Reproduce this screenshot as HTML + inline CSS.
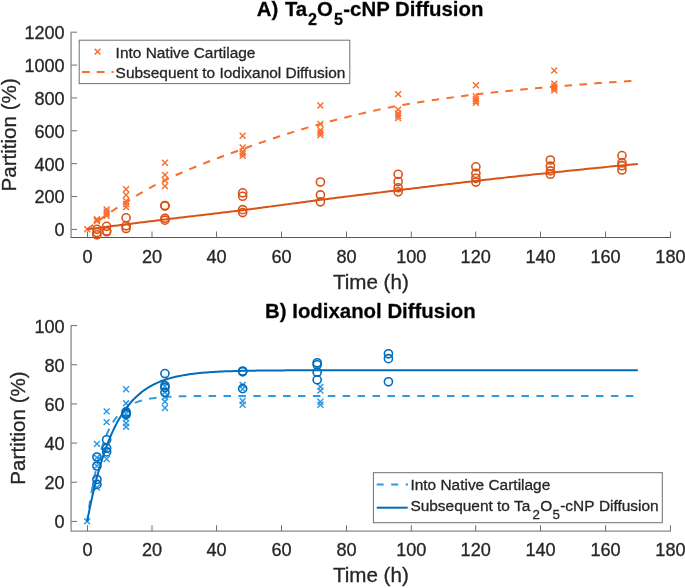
<!DOCTYPE html>
<html><head><meta charset="utf-8"><title>Diffusion</title>
<style>
html,body{margin:0;padding:0;background:#fff;}
svg{display:block;font-family:"Liberation Sans",sans-serif;will-change:transform;}
text{stroke:#262626;stroke-width:0.3px;}
</style></head>
<body>
<svg width="685" height="588" viewBox="0 0 685 588">
<rect width="685" height="588" fill="#fff"/>
<path d="M71.1 31.700000000000003V237.9" stroke="#9a9a9a" stroke-width="1.5" fill="none"/>
<path d="M70.89999999999999 237.4H670.9" stroke="#555" stroke-width="1.05" fill="none"/>
<path d="M87.50 237.4v-5.9" stroke="#707070" stroke-width="1" fill="none"/>
<text x="87.50" y="263.1" text-anchor="middle" font-size="18.1" fill="#262626">0</text>
<path d="M152.00 237.4v-5.9" stroke="#707070" stroke-width="1" fill="none"/>
<text x="152.00" y="263.1" text-anchor="middle" font-size="18.1" fill="#262626">20</text>
<path d="M216.55 237.4v-5.9" stroke="#707070" stroke-width="1" fill="none"/>
<text x="216.55" y="263.1" text-anchor="middle" font-size="18.1" fill="#262626">40</text>
<path d="M281.50 237.4v-5.9" stroke="#707070" stroke-width="1" fill="none"/>
<text x="281.50" y="263.1" text-anchor="middle" font-size="18.1" fill="#262626">60</text>
<path d="M346.50 237.4v-5.9" stroke="#707070" stroke-width="1" fill="none"/>
<text x="346.50" y="263.1" text-anchor="middle" font-size="18.1" fill="#262626">80</text>
<path d="M411.30 237.4v-5.9" stroke="#707070" stroke-width="1" fill="none"/>
<text x="411.30" y="263.1" text-anchor="middle" font-size="18.1" fill="#262626">100</text>
<path d="M475.70 237.4v-5.9" stroke="#707070" stroke-width="1" fill="none"/>
<text x="475.70" y="263.1" text-anchor="middle" font-size="18.1" fill="#262626">120</text>
<path d="M540.50 237.4v-5.9" stroke="#707070" stroke-width="1" fill="none"/>
<text x="540.50" y="263.1" text-anchor="middle" font-size="18.1" fill="#262626">140</text>
<path d="M605.55 237.4v-5.9" stroke="#707070" stroke-width="1" fill="none"/>
<text x="605.55" y="263.1" text-anchor="middle" font-size="18.1" fill="#262626">160</text>
<path d="M670.45 237.4v-5.9" stroke="#707070" stroke-width="1" fill="none"/>
<text x="670.45" y="263.1" text-anchor="middle" font-size="18.1" fill="#262626">180</text>
<path d="M71.3 229.40h5.8" stroke="#707070" stroke-width="1" fill="none"/>
<text x="64.7" y="236.30" text-anchor="end" font-size="18.1" fill="#262626">0</text>
<path d="M71.3 196.53h5.8" stroke="#707070" stroke-width="1" fill="none"/>
<text x="64.7" y="203.43" text-anchor="end" font-size="18.1" fill="#262626">200</text>
<path d="M71.3 163.67h5.8" stroke="#707070" stroke-width="1" fill="none"/>
<text x="64.7" y="170.57" text-anchor="end" font-size="18.1" fill="#262626">400</text>
<path d="M71.3 130.80h5.8" stroke="#707070" stroke-width="1" fill="none"/>
<text x="64.7" y="137.70" text-anchor="end" font-size="18.1" fill="#262626">600</text>
<path d="M71.3 97.94h5.8" stroke="#707070" stroke-width="1" fill="none"/>
<text x="64.7" y="104.84" text-anchor="end" font-size="18.1" fill="#262626">800</text>
<path d="M71.3 65.07h5.8" stroke="#707070" stroke-width="1" fill="none"/>
<text x="64.7" y="71.97" text-anchor="end" font-size="18.1" fill="#262626">1000</text>
<path d="M71.3 32.20h5.8" stroke="#707070" stroke-width="1" fill="none"/>
<text x="64.7" y="39.10" text-anchor="end" font-size="18.1" fill="#262626">1200</text>
<text x="370.85" y="288.6" text-anchor="middle" font-size="20.6" fill="#262626">Time (h)</text>
<text transform="translate(15.5 134.9) rotate(-90)" text-anchor="middle" font-size="20.6" fill="#262626">Partition (%)</text>
<path d="M84.25 226.35L90.15 232.25M84.25 232.25L90.15 226.35" stroke="#FA6E2D" stroke-width="1.45" fill="none"/>
<path d="M93.97 216.38L99.87 222.28M93.97 222.28L99.87 216.38" stroke="#FA6E2D" stroke-width="1.45" fill="none"/>
<path d="M93.97 217.19L99.87 223.09M93.97 223.09L99.87 217.19" stroke="#FA6E2D" stroke-width="1.45" fill="none"/>
<path d="M93.97 218.01L99.87 223.91M93.97 223.91L99.87 218.01" stroke="#FA6E2D" stroke-width="1.45" fill="none"/>
<path d="M103.68 206.40L109.58 212.30M103.68 212.30L109.58 206.40" stroke="#FA6E2D" stroke-width="1.45" fill="none"/>
<path d="M103.68 208.69L109.58 214.59M103.68 214.59L109.58 208.69" stroke="#FA6E2D" stroke-width="1.45" fill="none"/>
<path d="M103.68 210.65L109.58 216.55M103.68 216.55L109.58 210.65" stroke="#FA6E2D" stroke-width="1.45" fill="none"/>
<path d="M103.68 212.78L109.58 218.68M103.68 218.68L109.58 212.78" stroke="#FA6E2D" stroke-width="1.45" fill="none"/>
<path d="M123.12 186.29L129.02 192.19M123.12 192.19L129.02 186.29" stroke="#FA6E2D" stroke-width="1.45" fill="none"/>
<path d="M123.12 192.02L129.02 197.91M123.12 197.91L129.02 192.02" stroke="#FA6E2D" stroke-width="1.45" fill="none"/>
<path d="M123.12 198.06L129.02 203.96M123.12 203.96L129.02 198.06" stroke="#FA6E2D" stroke-width="1.45" fill="none"/>
<path d="M123.12 201.01L129.02 206.91M123.12 206.91L129.02 201.01" stroke="#FA6E2D" stroke-width="1.45" fill="none"/>
<path d="M123.12 204.11L129.02 210.01M123.12 210.01L129.02 204.11" stroke="#FA6E2D" stroke-width="1.45" fill="none"/>
<path d="M161.99 159.81L167.89 165.71M161.99 165.71L167.89 159.81" stroke="#FA6E2D" stroke-width="1.45" fill="none"/>
<path d="M161.99 171.90L167.89 177.80M161.99 177.80L167.89 171.90" stroke="#FA6E2D" stroke-width="1.45" fill="none"/>
<path d="M161.99 177.30L167.89 183.20M161.99 183.20L167.89 177.30" stroke="#FA6E2D" stroke-width="1.45" fill="none"/>
<path d="M161.99 183.19L167.89 189.09M161.99 189.09L167.89 183.19" stroke="#FA6E2D" stroke-width="1.45" fill="none"/>
<path d="M239.72 132.83L245.62 138.73M239.72 138.73L245.62 132.83" stroke="#FA6E2D" stroke-width="1.45" fill="none"/>
<path d="M239.72 144.60L245.62 150.50M239.72 150.50L245.62 144.60" stroke="#FA6E2D" stroke-width="1.45" fill="none"/>
<path d="M239.72 148.52L245.62 154.42M239.72 154.42L245.62 148.52" stroke="#FA6E2D" stroke-width="1.45" fill="none"/>
<path d="M239.72 150.65L245.62 156.55M239.72 156.55L245.62 150.65" stroke="#FA6E2D" stroke-width="1.45" fill="none"/>
<path d="M239.72 152.94L245.62 158.84M239.72 158.84L245.62 152.94" stroke="#FA6E2D" stroke-width="1.45" fill="none"/>
<path d="M317.46 102.58L323.36 108.48M317.46 108.48L323.36 102.58" stroke="#FA6E2D" stroke-width="1.45" fill="none"/>
<path d="M317.46 121.06L323.36 126.96M317.46 126.96L323.36 121.06" stroke="#FA6E2D" stroke-width="1.45" fill="none"/>
<path d="M317.46 127.27L323.36 133.17M317.46 133.17L323.36 127.27" stroke="#FA6E2D" stroke-width="1.45" fill="none"/>
<path d="M317.46 129.72L323.36 135.62M317.46 135.62L323.36 129.72" stroke="#FA6E2D" stroke-width="1.45" fill="none"/>
<path d="M317.46 132.01L323.36 137.91M317.46 137.91L323.36 132.01" stroke="#FA6E2D" stroke-width="1.45" fill="none"/>
<path d="M395.19 91.14L401.09 97.04M395.19 97.04L401.09 91.14" stroke="#FA6E2D" stroke-width="1.45" fill="none"/>
<path d="M395.19 106.67L401.09 112.57M395.19 112.57L401.09 106.67" stroke="#FA6E2D" stroke-width="1.45" fill="none"/>
<path d="M395.19 110.43L401.09 116.33M395.19 116.33L401.09 110.43" stroke="#FA6E2D" stroke-width="1.45" fill="none"/>
<path d="M395.19 112.88L401.09 118.78M395.19 118.78L401.09 112.88" stroke="#FA6E2D" stroke-width="1.45" fill="none"/>
<path d="M395.19 115.01L401.09 120.91M395.19 120.91L401.09 115.01" stroke="#FA6E2D" stroke-width="1.45" fill="none"/>
<path d="M472.93 82.31L478.83 88.21M472.93 88.21L478.83 82.31" stroke="#FA6E2D" stroke-width="1.45" fill="none"/>
<path d="M472.93 93.26L478.83 99.16M472.93 99.16L478.83 93.26" stroke="#FA6E2D" stroke-width="1.45" fill="none"/>
<path d="M472.93 96.04L478.83 101.94M472.93 101.94L478.83 96.04" stroke="#FA6E2D" stroke-width="1.45" fill="none"/>
<path d="M472.93 98.00L478.83 103.90M472.93 103.90L478.83 98.00" stroke="#FA6E2D" stroke-width="1.45" fill="none"/>
<path d="M472.93 99.80L478.83 105.70M472.93 105.70L478.83 99.80" stroke="#FA6E2D" stroke-width="1.45" fill="none"/>
<path d="M551.31 67.59L557.21 73.49M551.31 73.49L557.21 67.59" stroke="#FA6E2D" stroke-width="1.45" fill="none"/>
<path d="M551.31 80.83L557.21 86.73M551.31 86.73L557.21 80.83" stroke="#FA6E2D" stroke-width="1.45" fill="none"/>
<path d="M551.31 83.61L557.21 89.51M551.31 89.51L557.21 83.61" stroke="#FA6E2D" stroke-width="1.45" fill="none"/>
<path d="M551.31 85.41L557.21 91.31M551.31 91.31L557.21 85.41" stroke="#FA6E2D" stroke-width="1.45" fill="none"/>
<path d="M551.31 87.38L557.21 93.28M551.31 93.28L557.21 87.38" stroke="#FA6E2D" stroke-width="1.45" fill="none"/>
<path d="M87.20 229.30L89.97 227.17L92.73 225.07L95.50 222.99L98.27 220.94L101.03 218.92L103.80 216.92L106.57 214.96L109.34 213.02L112.10 211.12L114.87 209.25L117.64 207.40L120.40 205.60L123.17 203.82L125.94 202.08L128.70 200.36L131.47 198.66L134.24 196.99L137.01 195.33L139.77 193.70L142.54 192.10L145.31 190.52L148.07 188.97L150.84 187.45L153.61 185.97L156.37 184.51L159.14 183.10L161.91 181.72L164.68 180.37L167.44 179.06L170.21 177.77L172.98 176.50L175.74 175.25L178.51 174.02L181.28 172.80L184.04 171.61L186.81 170.42L189.58 169.26L192.35 168.10L195.11 166.97L197.88 165.84L200.65 164.73L203.41 163.63L206.18 162.55L208.95 161.47L211.71 160.41L214.48 159.35L217.25 158.31L220.02 157.27L222.78 156.24L225.55 155.22L228.32 154.20L231.08 153.19L233.85 152.19L236.62 151.19L239.38 150.20L242.15 149.21L244.92 148.22L247.69 147.24L250.45 146.26L253.22 145.28L255.99 144.32L258.75 143.35L261.52 142.39L264.29 141.44L267.05 140.50L269.82 139.56L272.59 138.63L275.35 137.71L278.12 136.79L280.89 135.88L283.66 134.98L286.42 134.09L289.19 133.21L291.96 132.34L294.72 131.48L297.49 130.63L300.26 129.79L303.02 128.96L305.79 128.14L308.56 127.33L311.33 126.53L314.09 125.75L316.86 124.98L319.63 124.22L322.39 123.47L325.16 122.73L327.93 121.99L330.69 121.25L333.46 120.53L336.23 119.80L339.00 119.09L341.76 118.38L344.53 117.68L347.30 116.98L350.06 116.29L352.83 115.61L355.60 114.94L358.36 114.27L361.13 113.62L363.90 112.97L366.67 112.34L369.43 111.71L372.20 111.09L374.97 110.48L377.73 109.89L380.50 109.30L383.27 108.73L386.03 108.17L388.80 107.62L391.57 107.08L394.34 106.56L397.10 106.05L399.87 105.55L402.64 105.06L405.40 104.57L408.17 104.10L410.94 103.63L413.70 103.16L416.47 102.71L419.24 102.26L422.01 101.82L424.77 101.38L427.54 100.95L430.31 100.53L433.07 100.11L435.84 99.70L438.61 99.30L441.37 98.90L444.14 98.51L446.91 98.12L449.68 97.74L452.44 97.37L455.21 97.00L457.98 96.64L460.74 96.28L463.51 95.93L466.28 95.58L469.04 95.24L471.81 94.90L474.58 94.57L477.34 94.24L480.11 93.92L482.88 93.60L485.65 93.29L488.41 92.98L491.18 92.67L493.95 92.37L496.71 92.08L499.48 91.79L502.25 91.50L505.01 91.21L507.78 90.93L510.55 90.66L513.32 90.38L516.08 90.11L518.85 89.85L521.62 89.58L524.38 89.32L527.15 89.07L529.92 88.81L532.68 88.56L535.45 88.31L538.22 88.06L540.99 87.82L543.75 87.58L546.52 87.33L549.29 87.10L552.05 86.86L554.82 86.63L557.59 86.39L560.35 86.16L563.12 85.93L565.89 85.71L568.66 85.48L571.42 85.26L574.19 85.03L576.96 84.81L579.72 84.59L582.49 84.38L585.26 84.16L588.02 83.95L590.79 83.74L593.56 83.53L596.33 83.32L599.09 83.12L601.86 82.92L604.63 82.72L607.39 82.52L610.16 82.33L612.93 82.13L615.69 81.94L618.46 81.76L621.23 81.57L624.00 81.39L626.76 81.21L629.53 81.03L632.30 80.86L635.06 80.68L637.83 80.52" stroke="#FA6E2D" stroke-width="2" stroke-dasharray="7.5 7.36" stroke-dashoffset="0.06" fill="none"/>
<circle cx="96.92" cy="229.30" r="4.05" stroke="#D95319" stroke-width="1.6" fill="none"/>
<circle cx="96.92" cy="232.57" r="4.05" stroke="#D95319" stroke-width="1.6" fill="none"/>
<circle cx="96.92" cy="234.86" r="4.05" stroke="#D95319" stroke-width="1.6" fill="none"/>
<circle cx="106.63" cy="226.36" r="4.05" stroke="#D95319" stroke-width="1.6" fill="none"/>
<circle cx="106.63" cy="230.94" r="4.05" stroke="#D95319" stroke-width="1.6" fill="none"/>
<circle cx="106.63" cy="231.75" r="4.05" stroke="#D95319" stroke-width="1.6" fill="none"/>
<circle cx="126.07" cy="217.86" r="4.05" stroke="#D95319" stroke-width="1.6" fill="none"/>
<circle cx="126.07" cy="225.87" r="4.05" stroke="#D95319" stroke-width="1.6" fill="none"/>
<circle cx="126.07" cy="228.48" r="4.05" stroke="#D95319" stroke-width="1.6" fill="none"/>
<circle cx="164.94" cy="205.51" r="4.05" stroke="#D95319" stroke-width="1.6" fill="none"/>
<circle cx="164.94" cy="206.08" r="4.05" stroke="#D95319" stroke-width="1.6" fill="none"/>
<circle cx="164.94" cy="218.35" r="4.05" stroke="#D95319" stroke-width="1.6" fill="none"/>
<circle cx="164.94" cy="220.14" r="4.05" stroke="#D95319" stroke-width="1.6" fill="none"/>
<circle cx="242.67" cy="192.84" r="4.05" stroke="#D95319" stroke-width="1.6" fill="none"/>
<circle cx="242.67" cy="196.27" r="4.05" stroke="#D95319" stroke-width="1.6" fill="none"/>
<circle cx="242.67" cy="209.68" r="4.05" stroke="#D95319" stroke-width="1.6" fill="none"/>
<circle cx="242.67" cy="212.62" r="4.05" stroke="#D95319" stroke-width="1.6" fill="none"/>
<circle cx="320.41" cy="182.05" r="4.05" stroke="#D95319" stroke-width="1.6" fill="none"/>
<circle cx="320.41" cy="194.97" r="4.05" stroke="#D95319" stroke-width="1.6" fill="none"/>
<circle cx="320.41" cy="201.83" r="4.05" stroke="#D95319" stroke-width="1.6" fill="none"/>
<circle cx="398.14" cy="174.36" r="4.05" stroke="#D95319" stroke-width="1.6" fill="none"/>
<circle cx="398.14" cy="181.56" r="4.05" stroke="#D95319" stroke-width="1.6" fill="none"/>
<circle cx="398.14" cy="187.77" r="4.05" stroke="#D95319" stroke-width="1.6" fill="none"/>
<circle cx="398.14" cy="191.86" r="4.05" stroke="#D95319" stroke-width="1.6" fill="none"/>
<circle cx="475.88" cy="166.84" r="4.05" stroke="#D95319" stroke-width="1.6" fill="none"/>
<circle cx="475.88" cy="173.38" r="4.05" stroke="#D95319" stroke-width="1.6" fill="none"/>
<circle cx="475.88" cy="178.29" r="4.05" stroke="#D95319" stroke-width="1.6" fill="none"/>
<circle cx="475.88" cy="182.05" r="4.05" stroke="#D95319" stroke-width="1.6" fill="none"/>
<circle cx="550.38" cy="159.98" r="4.05" stroke="#D95319" stroke-width="1.6" fill="none"/>
<circle cx="550.38" cy="166.19" r="4.05" stroke="#D95319" stroke-width="1.6" fill="none"/>
<circle cx="550.38" cy="170.93" r="4.05" stroke="#D95319" stroke-width="1.6" fill="none"/>
<circle cx="550.38" cy="174.20" r="4.05" stroke="#D95319" stroke-width="1.6" fill="none"/>
<circle cx="621.96" cy="155.56" r="4.05" stroke="#D95319" stroke-width="1.6" fill="none"/>
<circle cx="621.96" cy="162.92" r="4.05" stroke="#D95319" stroke-width="1.6" fill="none"/>
<circle cx="621.96" cy="165.70" r="4.05" stroke="#D95319" stroke-width="1.6" fill="none"/>
<circle cx="621.96" cy="169.95" r="4.05" stroke="#D95319" stroke-width="1.6" fill="none"/>
<path d="M87.20 229.30L89.97 228.94L92.73 228.59L95.50 228.23L98.27 227.87L101.03 227.52L103.80 227.16L106.57 226.81L109.34 226.46L112.10 226.10L114.87 225.75L117.64 225.40L120.40 225.05L123.17 224.70L125.94 224.35L128.70 224.00L131.47 223.65L134.24 223.30L137.01 222.96L139.77 222.61L142.54 222.27L145.31 221.92L148.07 221.58L150.84 221.23L153.61 220.89L156.37 220.55L159.14 220.20L161.91 219.86L164.68 219.52L167.44 219.18L170.21 218.85L172.98 218.51L175.74 218.18L178.51 217.85L181.28 217.52L184.04 217.19L186.81 216.86L189.58 216.53L192.35 216.21L195.11 215.88L197.88 215.56L200.65 215.23L203.41 214.90L206.18 214.58L208.95 214.25L211.71 213.93L214.48 213.60L217.25 213.27L220.02 212.94L222.78 212.61L225.55 212.28L228.32 211.94L231.08 211.61L233.85 211.27L236.62 210.93L239.38 210.58L242.15 210.24L244.92 209.89L247.69 209.53L250.45 209.18L253.22 208.82L255.99 208.46L258.75 208.10L261.52 207.73L264.29 207.36L267.05 206.99L269.82 206.62L272.59 206.25L275.35 205.88L278.12 205.50L280.89 205.13L283.66 204.76L286.42 204.38L289.19 204.01L291.96 203.63L294.72 203.26L297.49 202.89L300.26 202.52L303.02 202.15L305.79 201.78L308.56 201.41L311.33 201.05L314.09 200.69L316.86 200.33L319.63 199.97L322.39 199.62L325.16 199.26L327.93 198.91L330.69 198.56L333.46 198.21L336.23 197.86L339.00 197.51L341.76 197.17L344.53 196.82L347.30 196.47L350.06 196.13L352.83 195.78L355.60 195.44L358.36 195.10L361.13 194.76L363.90 194.42L366.67 194.08L369.43 193.73L372.20 193.39L374.97 193.06L377.73 192.72L380.50 192.38L383.27 192.04L386.03 191.70L388.80 191.36L391.57 191.03L394.34 190.69L397.10 190.35L399.87 190.01L402.64 189.68L405.40 189.34L408.17 189.00L410.94 188.66L413.70 188.32L416.47 187.99L419.24 187.65L422.01 187.31L424.77 186.98L427.54 186.64L430.31 186.30L433.07 185.97L435.84 185.63L438.61 185.30L441.37 184.97L444.14 184.63L446.91 184.30L449.68 183.97L452.44 183.64L455.21 183.31L457.98 182.99L460.74 182.66L463.51 182.34L466.28 182.01L469.04 181.69L471.81 181.37L474.58 181.05L477.34 180.74L480.11 180.42L482.88 180.11L485.65 179.79L488.41 179.48L491.18 179.17L493.95 178.86L496.71 178.55L499.48 178.24L502.25 177.93L505.01 177.62L507.78 177.32L510.55 177.01L513.32 176.71L516.08 176.41L518.85 176.10L521.62 175.80L524.38 175.50L527.15 175.20L529.92 174.91L532.68 174.61L535.45 174.31L538.22 174.02L540.99 173.72L543.75 173.43L546.52 173.14L549.29 172.84L552.05 172.55L554.82 172.26L557.59 171.97L560.35 171.68L563.12 171.39L565.89 171.11L568.66 170.82L571.42 170.53L574.19 170.25L576.96 169.96L579.72 169.68L582.49 169.40L585.26 169.11L588.02 168.83L590.79 168.55L593.56 168.27L596.33 167.99L599.09 167.71L601.86 167.43L604.63 167.16L607.39 166.88L610.16 166.61L612.93 166.33L615.69 166.06L618.46 165.79L621.23 165.51L624.00 165.24L626.76 164.97L629.53 164.70L632.30 164.43L635.06 164.17L637.83 163.90" stroke="#D95319" stroke-width="2" fill="none"/>
<rect x="79.2" y="40.2" width="270.6" height="43.4" fill="#fff" stroke="#707070" stroke-width="1"/>
<path d="M94.60 48.65L100.50 54.55M94.60 54.55L100.50 48.65" stroke="#FA6E2D" stroke-width="1.45" fill="none"/>
<path d="M82 71.9H113.5" stroke="#FA6E2D" stroke-width="2" stroke-dasharray="7.8 7" fill="none"/>
<text x="115.6" y="57.6" font-size="15.45" fill="#262626">Into Native Cartilage</text>
<text x="115.6" y="77.7" font-size="15.45" fill="#262626">Subsequent to Iodixanol Diffusion</text>
<g font-size="20.4" font-weight="bold" fill="#000"><text x="256.8" y="15.7">A)</text><text x="284.9" y="15.7">Ta</text><text x="308.1" y="25.2" font-size="16.1">2</text><text x="317.1" y="15.7">O</text><text x="334.1" y="25.2" font-size="16.1">5</text><text x="343.3" y="15.7">-cNP Diffusion</text></g>
<path d="M71.1 325.1V531.6" stroke="#9a9a9a" stroke-width="1.5" fill="none"/>
<path d="M70.89999999999999 531.1H670.9" stroke="#8a8a8a" stroke-width="1.05" fill="none"/>
<path d="M87.50 531.1v-5.9" stroke="#707070" stroke-width="1" fill="none"/>
<text x="87.50" y="556.2" text-anchor="middle" font-size="18.1" fill="#262626">0</text>
<path d="M152.00 531.1v-5.9" stroke="#707070" stroke-width="1" fill="none"/>
<text x="152.00" y="556.2" text-anchor="middle" font-size="18.1" fill="#262626">20</text>
<path d="M216.55 531.1v-5.9" stroke="#707070" stroke-width="1" fill="none"/>
<text x="216.55" y="556.2" text-anchor="middle" font-size="18.1" fill="#262626">40</text>
<path d="M281.50 531.1v-5.9" stroke="#707070" stroke-width="1" fill="none"/>
<text x="281.50" y="556.2" text-anchor="middle" font-size="18.1" fill="#262626">60</text>
<path d="M346.50 531.1v-5.9" stroke="#707070" stroke-width="1" fill="none"/>
<text x="346.50" y="556.2" text-anchor="middle" font-size="18.1" fill="#262626">80</text>
<path d="M411.30 531.1v-5.9" stroke="#707070" stroke-width="1" fill="none"/>
<text x="411.30" y="556.2" text-anchor="middle" font-size="18.1" fill="#262626">100</text>
<path d="M475.70 531.1v-5.9" stroke="#707070" stroke-width="1" fill="none"/>
<text x="475.70" y="556.2" text-anchor="middle" font-size="18.1" fill="#262626">120</text>
<path d="M540.50 531.1v-5.9" stroke="#707070" stroke-width="1" fill="none"/>
<text x="540.50" y="556.2" text-anchor="middle" font-size="18.1" fill="#262626">140</text>
<path d="M605.55 531.1v-5.9" stroke="#707070" stroke-width="1" fill="none"/>
<text x="605.55" y="556.2" text-anchor="middle" font-size="18.1" fill="#262626">160</text>
<path d="M670.45 531.1v-5.9" stroke="#707070" stroke-width="1" fill="none"/>
<text x="670.45" y="556.2" text-anchor="middle" font-size="18.1" fill="#262626">180</text>
<path d="M71.3 521.40h5.8" stroke="#707070" stroke-width="1" fill="none"/>
<text x="64.7" y="528.30" text-anchor="end" font-size="18.1" fill="#262626">0</text>
<path d="M71.3 482.24h5.8" stroke="#707070" stroke-width="1" fill="none"/>
<text x="64.7" y="489.14" text-anchor="end" font-size="18.1" fill="#262626">20</text>
<path d="M71.3 443.08h5.8" stroke="#707070" stroke-width="1" fill="none"/>
<text x="64.7" y="449.98" text-anchor="end" font-size="18.1" fill="#262626">40</text>
<path d="M71.3 403.92h5.8" stroke="#707070" stroke-width="1" fill="none"/>
<text x="64.7" y="410.82" text-anchor="end" font-size="18.1" fill="#262626">60</text>
<path d="M71.3 364.76h5.8" stroke="#707070" stroke-width="1" fill="none"/>
<text x="64.7" y="371.66" text-anchor="end" font-size="18.1" fill="#262626">80</text>
<path d="M71.3 325.60h5.8" stroke="#707070" stroke-width="1" fill="none"/>
<text x="64.7" y="332.50" text-anchor="end" font-size="18.1" fill="#262626">100</text>
<text x="370.85" y="582.4" text-anchor="middle" font-size="20.6" fill="#262626">Time (h)</text>
<text transform="translate(25.3 428.0) rotate(-90)" text-anchor="middle" font-size="20.6" fill="#262626">Partition (%)</text>
<path d="M84.25 518.45L90.15 524.35M84.25 524.35L90.15 518.45" stroke="#2A99E8" stroke-width="1.45" fill="none"/>
<path d="M93.97 440.91L99.87 446.81M93.97 446.81L99.87 440.91" stroke="#2A99E8" stroke-width="1.45" fill="none"/>
<path d="M93.97 454.62L99.87 460.52M93.97 460.52L99.87 454.62" stroke="#2A99E8" stroke-width="1.45" fill="none"/>
<path d="M93.97 463.04L99.87 468.94M93.97 468.94L99.87 463.04" stroke="#2A99E8" stroke-width="1.45" fill="none"/>
<path d="M93.97 484.58L99.87 490.48M93.97 490.48L99.87 484.58" stroke="#2A99E8" stroke-width="1.45" fill="none"/>
<path d="M103.68 408.41L109.58 414.31M103.68 414.31L109.58 408.41" stroke="#2A99E8" stroke-width="1.45" fill="none"/>
<path d="M103.68 419.18L109.58 425.08M103.68 425.08L109.58 419.18" stroke="#2A99E8" stroke-width="1.45" fill="none"/>
<path d="M103.68 447.96L109.58 453.86M103.68 453.86L109.58 447.96" stroke="#2A99E8" stroke-width="1.45" fill="none"/>
<path d="M103.68 455.99L109.58 461.89M103.68 461.89L109.58 455.99" stroke="#2A99E8" stroke-width="1.45" fill="none"/>
<path d="M123.12 386.29L129.02 392.19M123.12 392.19L129.02 386.29" stroke="#2A99E8" stroke-width="1.45" fill="none"/>
<path d="M123.12 400.38L129.02 406.28M123.12 406.28L129.02 400.38" stroke="#2A99E8" stroke-width="1.45" fill="none"/>
<path d="M123.12 410.76L129.02 416.66M123.12 416.66L129.02 410.76" stroke="#2A99E8" stroke-width="1.45" fill="none"/>
<path d="M123.12 415.65L129.02 421.55M123.12 421.55L129.02 415.65" stroke="#2A99E8" stroke-width="1.45" fill="none"/>
<path d="M123.12 420.16L129.02 426.06M123.12 426.06L129.02 420.16" stroke="#2A99E8" stroke-width="1.45" fill="none"/>
<path d="M123.12 423.88L129.02 429.78M123.12 429.78L129.02 423.88" stroke="#2A99E8" stroke-width="1.45" fill="none"/>
<path d="M161.99 383.35L167.89 389.25M161.99 389.25L167.89 383.35" stroke="#2A99E8" stroke-width="1.45" fill="none"/>
<path d="M161.99 389.22L167.89 395.12M161.99 395.12L167.89 389.22" stroke="#2A99E8" stroke-width="1.45" fill="none"/>
<path d="M161.99 394.12L167.89 400.02M161.99 400.02L167.89 394.12" stroke="#2A99E8" stroke-width="1.45" fill="none"/>
<path d="M161.99 398.62L167.89 404.52M161.99 404.52L167.89 398.62" stroke="#2A99E8" stroke-width="1.45" fill="none"/>
<path d="M161.99 405.08L167.89 410.98M161.99 410.98L167.89 405.08" stroke="#2A99E8" stroke-width="1.45" fill="none"/>
<path d="M239.72 381.98L245.62 387.88M239.72 387.88L245.62 381.98" stroke="#2A99E8" stroke-width="1.45" fill="none"/>
<path d="M239.72 386.09L245.62 391.99M239.72 391.99L245.62 386.09" stroke="#2A99E8" stroke-width="1.45" fill="none"/>
<path d="M239.72 398.03L245.62 403.93M239.72 403.93L245.62 398.03" stroke="#2A99E8" stroke-width="1.45" fill="none"/>
<path d="M239.72 401.75L245.62 407.65M239.72 407.65L245.62 401.75" stroke="#2A99E8" stroke-width="1.45" fill="none"/>
<path d="M317.46 383.94L323.36 389.84M317.46 389.84L323.36 383.94" stroke="#2A99E8" stroke-width="1.45" fill="none"/>
<path d="M317.46 387.66L323.36 393.56M317.46 393.56L323.36 387.66" stroke="#2A99E8" stroke-width="1.45" fill="none"/>
<path d="M317.46 398.82L323.36 404.72M317.46 404.72L323.36 398.82" stroke="#2A99E8" stroke-width="1.45" fill="none"/>
<path d="M317.46 401.75L323.36 407.65M317.46 407.65L323.36 401.75" stroke="#2A99E8" stroke-width="1.45" fill="none"/>
<path d="M87.20 521.40L88.58 511.34L89.96 502.09L91.34 493.58L92.72 485.75L94.10 478.55L95.48 471.92L96.86 465.83L98.24 460.22L99.62 455.07L101.00 450.32L102.38 445.96L103.76 441.95L105.14 438.26L106.52 434.86L107.90 431.74L109.28 428.87L110.66 426.22L112.04 423.79L113.42 421.56L114.80 419.50L116.18 417.61L117.56 415.87L118.94 414.27L120.32 412.79L121.70 411.44L123.08 410.19L124.46 409.05L125.84 407.99L127.22 407.02L128.60 406.13L129.98 405.31L131.36 404.55L132.74 403.86L134.12 403.22L135.50 402.63L136.88 402.09L138.26 401.60L139.64 401.14L141.02 400.72L142.40 400.33L143.78 399.98L145.16 399.65L146.54 399.35L147.92 399.07L149.30 398.82L150.68 398.58L152.06 398.37L153.44 398.17L154.82 397.99L156.20 397.82L157.58 397.66L158.96 397.52L160.34 397.39L161.72 397.27L163.10 397.16L164.48 397.06L165.86 396.97L167.24 396.88L168.62 396.80L170.00 396.73L171.38 396.66L172.76 396.60L174.14 396.54L175.52 396.49L176.90 396.44L178.28 396.40L179.66 396.36L181.04 396.32L182.42 396.29L183.80 396.25L185.18 396.23L186.56 396.20L187.94 396.17L189.32 396.15L190.70 396.13L192.08 396.11L193.46 396.09L194.84 396.08L196.22 396.06L197.60 396.05L198.98 396.04L200.36 396.03L201.74 396.01L203.12 396.00L204.50 396.00L205.88 395.99L207.26 395.98L208.64 395.97L210.02 395.97L211.40 395.96L212.78 395.95L214.16 395.95L215.54 395.95L216.92 395.94L218.30 395.94L219.68 395.93L221.06 395.93L222.44 395.93L223.82 395.92L225.20 395.92L226.58 395.92L227.96 395.92L229.34 395.92L230.72 395.91L232.10 395.91L233.48 395.91L234.86 395.91L236.24 395.91L237.62 395.91L239.00 395.91L240.38 395.90L241.76 395.90L243.14 395.90L244.52 395.90L245.90 395.90L247.28 395.90L248.66 395.90L250.04 395.90L251.42 395.90L252.80 395.90L254.18 395.90L255.56 395.90L256.94 395.90L258.32 395.90L259.70 395.90L261.08 395.90L262.46 395.90L263.84 395.90L265.22 395.89L266.60 395.89L267.98 395.89L269.36 395.89L270.74 395.89L272.12 395.89L273.50 395.89L274.88 395.89L276.26 395.89L277.64 395.89L279.02 395.89L280.40 395.89L281.78 395.89L283.16 395.89L284.54 395.89L285.92 395.89L287.30 395.89L288.68 395.89L290.06 395.89L291.44 395.89L292.82 395.89L294.20 395.89L295.58 395.89L296.96 395.89L298.34 395.89L299.72 395.89L301.10 395.89L302.48 395.89L303.86 395.89L305.24 395.89L306.62 395.89L308.00 395.89L309.38 395.89L310.76 395.89L312.14 395.89L313.52 395.89L314.90 395.89L316.28 395.89L317.66 395.89L319.04 395.89L320.42 395.89L321.80 395.89L323.18 395.89L324.56 395.89L325.94 395.89L327.32 395.89L328.70 395.89L330.08 395.89L331.46 395.89L332.84 395.89L334.22 395.89L335.60 395.89L336.98 395.89L338.36 395.89L339.74 395.89L341.12 395.89L342.50 395.89L343.88 395.89L345.26 395.89L346.64 395.89L348.02 395.89L349.40 395.89L350.78 395.89L352.16 395.89L353.54 395.89L354.92 395.89L356.30 395.89L357.68 395.89L359.06 395.89L360.44 395.89L361.82 395.89L363.21 395.89L364.59 395.89L365.97 395.89L367.35 395.89L368.73 395.89L370.11 395.89L371.49 395.89L372.87 395.89L374.25 395.89L375.63 395.89L377.01 395.89L378.39 395.89L379.77 395.89L381.15 395.89L382.53 395.89L383.91 395.89L385.29 395.89L386.67 395.89L388.05 395.89L389.43 395.89L390.81 395.89L392.19 395.89L393.57 395.89L394.95 395.89L396.33 395.89L397.71 395.89L399.09 395.89L400.47 395.89L401.85 395.89L403.23 395.89L404.61 395.89L405.99 395.89L407.37 395.89L408.75 395.89L410.13 395.89L411.51 395.89L412.89 395.89L414.27 395.89L415.65 395.89L417.03 395.89L418.41 395.89L419.79 395.89L421.17 395.89L422.55 395.89L423.93 395.89L425.31 395.89L426.69 395.89L428.07 395.89L429.45 395.89L430.83 395.89L432.21 395.89L433.59 395.89L434.97 395.89L436.35 395.89L437.73 395.89L439.11 395.89L440.49 395.89L441.87 395.89L443.25 395.89L444.63 395.89L446.01 395.89L447.39 395.89L448.77 395.89L450.15 395.89L451.53 395.89L452.91 395.89L454.29 395.89L455.67 395.89L457.05 395.89L458.43 395.89L459.81 395.89L461.19 395.89L462.57 395.89L463.95 395.89L465.33 395.89L466.71 395.89L468.09 395.89L469.47 395.89L470.85 395.89L472.23 395.89L473.61 395.89L474.99 395.89L476.37 395.89L477.75 395.89L479.13 395.89L480.51 395.89L481.89 395.89L483.27 395.89L484.65 395.89L486.03 395.89L487.41 395.89L488.79 395.89L490.17 395.89L491.55 395.89L492.93 395.89L494.31 395.89L495.69 395.89L497.07 395.89L498.45 395.89L499.83 395.89L501.21 395.89L502.59 395.89L503.97 395.89L505.35 395.89L506.73 395.89L508.11 395.89L509.49 395.89L510.87 395.89L512.25 395.89L513.63 395.89L515.01 395.89L516.39 395.89L517.77 395.89L519.15 395.89L520.53 395.89L521.91 395.89L523.29 395.89L524.67 395.89L526.05 395.89L527.43 395.89L528.81 395.89L530.19 395.89L531.57 395.89L532.95 395.89L534.33 395.89L535.71 395.89L537.09 395.89L538.47 395.89L539.85 395.89L541.23 395.89L542.61 395.89L543.99 395.89L545.37 395.89L546.75 395.89L548.13 395.89L549.51 395.89L550.89 395.89L552.27 395.89L553.65 395.89L555.03 395.89L556.41 395.89L557.79 395.89L559.17 395.89L560.55 395.89L561.93 395.89L563.31 395.89L564.69 395.89L566.07 395.89L567.45 395.89L568.83 395.89L570.21 395.89L571.59 395.89L572.97 395.89L574.35 395.89L575.73 395.89L577.11 395.89L578.49 395.89L579.87 395.89L581.25 395.89L582.63 395.89L584.01 395.89L585.39 395.89L586.77 395.89L588.15 395.89L589.53 395.89L590.91 395.89L592.29 395.89L593.67 395.89L595.05 395.89L596.43 395.89L597.81 395.89L599.19 395.89L600.57 395.89L601.95 395.89L603.33 395.89L604.71 395.89L606.09 395.89L607.47 395.89L608.85 395.89L610.23 395.89L611.61 395.89L612.99 395.89L614.37 395.89L615.75 395.89L617.13 395.89L618.51 395.89L619.89 395.89L621.27 395.89L622.65 395.89L624.03 395.89L625.41 395.89L626.79 395.89L628.17 395.89L629.55 395.89L630.93 395.89L632.31 395.89L633.69 395.89L635.07 395.89L636.45 395.89L637.83 395.89" stroke="#2A99E8" stroke-width="2" stroke-dasharray="7.5 7.4" stroke-dashoffset="1.35" fill="none"/>
<circle cx="96.92" cy="456.98" r="4.05" stroke="#006CBA" stroke-width="1.6" fill="none"/>
<circle cx="96.92" cy="465.99" r="4.05" stroke="#006CBA" stroke-width="1.6" fill="none"/>
<circle cx="96.92" cy="479.50" r="4.05" stroke="#006CBA" stroke-width="1.6" fill="none"/>
<circle cx="96.92" cy="484.39" r="4.05" stroke="#006CBA" stroke-width="1.6" fill="none"/>
<circle cx="106.63" cy="439.75" r="4.05" stroke="#006CBA" stroke-width="1.6" fill="none"/>
<circle cx="106.63" cy="448.17" r="4.05" stroke="#006CBA" stroke-width="1.6" fill="none"/>
<circle cx="106.63" cy="451.89" r="4.05" stroke="#006CBA" stroke-width="1.6" fill="none"/>
<circle cx="126.07" cy="411.95" r="4.05" stroke="#006CBA" stroke-width="1.6" fill="none"/>
<circle cx="126.07" cy="413.32" r="4.05" stroke="#006CBA" stroke-width="1.6" fill="none"/>
<circle cx="126.07" cy="414.69" r="4.05" stroke="#006CBA" stroke-width="1.6" fill="none"/>
<circle cx="164.94" cy="373.57" r="4.05" stroke="#006CBA" stroke-width="1.6" fill="none"/>
<circle cx="164.94" cy="385.71" r="4.05" stroke="#006CBA" stroke-width="1.6" fill="none"/>
<circle cx="164.94" cy="387.67" r="4.05" stroke="#006CBA" stroke-width="1.6" fill="none"/>
<circle cx="164.94" cy="392.56" r="4.05" stroke="#006CBA" stroke-width="1.6" fill="none"/>
<circle cx="242.67" cy="371.03" r="4.05" stroke="#006CBA" stroke-width="1.6" fill="none"/>
<circle cx="242.67" cy="371.81" r="4.05" stroke="#006CBA" stroke-width="1.6" fill="none"/>
<circle cx="242.67" cy="388.65" r="4.05" stroke="#006CBA" stroke-width="1.6" fill="none"/>
<circle cx="317.17" cy="362.80" r="4.05" stroke="#006CBA" stroke-width="1.6" fill="none"/>
<circle cx="317.17" cy="364.76" r="4.05" stroke="#006CBA" stroke-width="1.6" fill="none"/>
<circle cx="317.17" cy="372.20" r="4.05" stroke="#006CBA" stroke-width="1.6" fill="none"/>
<circle cx="317.17" cy="379.84" r="4.05" stroke="#006CBA" stroke-width="1.6" fill="none"/>
<circle cx="388.43" cy="353.80" r="4.05" stroke="#006CBA" stroke-width="1.6" fill="none"/>
<circle cx="388.43" cy="358.69" r="4.05" stroke="#006CBA" stroke-width="1.6" fill="none"/>
<circle cx="388.43" cy="381.79" r="4.05" stroke="#006CBA" stroke-width="1.6" fill="none"/>
<path d="M87.20 521.40L88.58 514.18L89.96 507.30L91.34 500.75L92.72 494.51L94.10 488.57L95.48 482.91L96.86 477.53L98.24 472.40L99.62 467.52L101.00 462.87L102.38 458.44L103.76 454.23L105.14 450.21L106.52 446.39L107.90 442.75L109.28 439.29L110.66 435.99L112.04 432.85L113.42 429.85L114.80 427.00L116.18 424.29L117.56 421.71L118.94 419.25L120.32 416.91L121.70 414.68L123.08 412.55L124.46 410.53L125.84 408.60L127.22 406.77L128.60 405.03L129.98 403.36L131.36 401.78L132.74 400.27L134.12 398.84L135.50 397.47L136.88 396.17L138.26 394.93L139.64 393.75L141.02 392.63L142.40 391.56L143.78 390.54L145.16 389.57L146.54 388.64L147.92 387.77L149.30 386.93L150.68 386.13L152.06 385.37L153.44 384.65L154.82 383.96L156.20 383.30L157.58 382.68L158.96 382.09L160.34 381.52L161.72 380.98L163.10 380.47L164.48 379.98L165.86 379.51L167.24 379.07L168.62 378.65L170.00 378.25L171.38 377.86L172.76 377.50L174.14 377.15L175.52 376.82L176.90 376.51L178.28 376.21L179.66 375.92L181.04 375.65L182.42 375.39L183.80 375.15L185.18 374.91L186.56 374.69L187.94 374.48L189.32 374.27L190.70 374.08L192.08 373.90L193.46 373.72L194.84 373.56L196.22 373.40L197.60 373.25L198.98 373.10L200.36 372.97L201.74 372.84L203.12 372.71L204.50 372.60L205.88 372.48L207.26 372.38L208.64 372.27L210.02 372.18L211.40 372.08L212.78 372.00L214.16 371.91L215.54 371.83L216.92 371.76L218.30 371.68L219.68 371.62L221.06 371.55L222.44 371.49L223.82 371.43L225.20 371.37L226.58 371.32L227.96 371.27L229.34 371.22L230.72 371.17L232.10 371.13L233.48 371.08L234.86 371.04L236.24 371.01L237.62 370.97L239.00 370.93L240.38 370.90L241.76 370.87L243.14 370.84L244.52 370.81L245.90 370.78L247.28 370.76L248.66 370.73L250.04 370.71L251.42 370.69L252.80 370.67L254.18 370.65L255.56 370.63L256.94 370.61L258.32 370.59L259.70 370.57L261.08 370.56L262.46 370.54L263.84 370.53L265.22 370.52L266.60 370.50L267.98 370.49L269.36 370.48L270.74 370.47L272.12 370.46L273.50 370.45L274.88 370.44L276.26 370.43L277.64 370.42L279.02 370.41L280.40 370.40L281.78 370.39L283.16 370.39L284.54 370.38L285.92 370.37L287.30 370.37L288.68 370.36L290.06 370.36L291.44 370.35L292.82 370.34L294.20 370.34L295.58 370.34L296.96 370.33L298.34 370.33L299.72 370.32L301.10 370.32L302.48 370.32L303.86 370.31L305.24 370.31L306.62 370.31L308.00 370.30L309.38 370.30L310.76 370.30L312.14 370.29L313.52 370.29L314.90 370.29L316.28 370.29L317.66 370.28L319.04 370.28L320.42 370.28L321.80 370.28L323.18 370.28L324.56 370.28L325.94 370.27L327.32 370.27L328.70 370.27L330.08 370.27L331.46 370.27L332.84 370.27L334.22 370.27L335.60 370.26L336.98 370.26L338.36 370.26L339.74 370.26L341.12 370.26L342.50 370.26L343.88 370.26L345.26 370.26L346.64 370.26L348.02 370.26L349.40 370.26L350.78 370.26L352.16 370.25L353.54 370.25L354.92 370.25L356.30 370.25L357.68 370.25L359.06 370.25L360.44 370.25L361.82 370.25L363.21 370.25L364.59 370.25L365.97 370.25L367.35 370.25L368.73 370.25L370.11 370.25L371.49 370.25L372.87 370.25L374.25 370.25L375.63 370.25L377.01 370.25L378.39 370.25L379.77 370.25L381.15 370.25L382.53 370.25L383.91 370.25L385.29 370.25L386.67 370.25L388.05 370.25L389.43 370.25L390.81 370.25L392.19 370.25L393.57 370.25L394.95 370.25L396.33 370.25L397.71 370.24L399.09 370.24L400.47 370.24L401.85 370.24L403.23 370.24L404.61 370.24L405.99 370.24L407.37 370.24L408.75 370.24L410.13 370.24L411.51 370.24L412.89 370.24L414.27 370.24L415.65 370.24L417.03 370.24L418.41 370.24L419.79 370.24L421.17 370.24L422.55 370.24L423.93 370.24L425.31 370.24L426.69 370.24L428.07 370.24L429.45 370.24L430.83 370.24L432.21 370.24L433.59 370.24L434.97 370.24L436.35 370.24L437.73 370.24L439.11 370.24L440.49 370.24L441.87 370.24L443.25 370.24L444.63 370.24L446.01 370.24L447.39 370.24L448.77 370.24L450.15 370.24L451.53 370.24L452.91 370.24L454.29 370.24L455.67 370.24L457.05 370.24L458.43 370.24L459.81 370.24L461.19 370.24L462.57 370.24L463.95 370.24L465.33 370.24L466.71 370.24L468.09 370.24L469.47 370.24L470.85 370.24L472.23 370.24L473.61 370.24L474.99 370.24L476.37 370.24L477.75 370.24L479.13 370.24L480.51 370.24L481.89 370.24L483.27 370.24L484.65 370.24L486.03 370.24L487.41 370.24L488.79 370.24L490.17 370.24L491.55 370.24L492.93 370.24L494.31 370.24L495.69 370.24L497.07 370.24L498.45 370.24L499.83 370.24L501.21 370.24L502.59 370.24L503.97 370.24L505.35 370.24L506.73 370.24L508.11 370.24L509.49 370.24L510.87 370.24L512.25 370.24L513.63 370.24L515.01 370.24L516.39 370.24L517.77 370.24L519.15 370.24L520.53 370.24L521.91 370.24L523.29 370.24L524.67 370.24L526.05 370.24L527.43 370.24L528.81 370.24L530.19 370.24L531.57 370.24L532.95 370.24L534.33 370.24L535.71 370.24L537.09 370.24L538.47 370.24L539.85 370.24L541.23 370.24L542.61 370.24L543.99 370.24L545.37 370.24L546.75 370.24L548.13 370.24L549.51 370.24L550.89 370.24L552.27 370.24L553.65 370.24L555.03 370.24L556.41 370.24L557.79 370.24L559.17 370.24L560.55 370.24L561.93 370.24L563.31 370.24L564.69 370.24L566.07 370.24L567.45 370.24L568.83 370.24L570.21 370.24L571.59 370.24L572.97 370.24L574.35 370.24L575.73 370.24L577.11 370.24L578.49 370.24L579.87 370.24L581.25 370.24L582.63 370.24L584.01 370.24L585.39 370.24L586.77 370.24L588.15 370.24L589.53 370.24L590.91 370.24L592.29 370.24L593.67 370.24L595.05 370.24L596.43 370.24L597.81 370.24L599.19 370.24L600.57 370.24L601.95 370.24L603.33 370.24L604.71 370.24L606.09 370.24L607.47 370.24L608.85 370.24L610.23 370.24L611.61 370.24L612.99 370.24L614.37 370.24L615.75 370.24L617.13 370.24L618.51 370.24L619.89 370.24L621.27 370.24L622.65 370.24L624.03 370.24L625.41 370.24L626.79 370.24L628.17 370.24L629.55 370.24L630.93 370.24L632.31 370.24L633.69 370.24L635.07 370.24L636.45 370.24L637.83 370.24" stroke="#006CBA" stroke-width="2" fill="none"/>
<rect x="373.4" y="472.7" width="288.9" height="50" fill="#fff" stroke="#707070" stroke-width="1"/>
<path d="M376.7 484.4H408" stroke="#2A99E8" stroke-width="2" stroke-dasharray="7 7.5" fill="none"/>
<path d="M376.7 507.7H407.7" stroke="#006CBA" stroke-width="2" fill="none"/>
<text x="410.4" y="490.4" font-size="15.45" fill="#262626">Into Native Cartilage</text>
<g font-size="15.45" fill="#262626"><text x="410.4" y="511.1">Subsequent to Ta</text><text x="532.5" y="519.2" font-size="13.3">2</text><text x="540.2" y="511.1">O</text><text x="552.5" y="519.2" font-size="13.3">5</text><text x="560.2" y="511.1">-cNP</text><text x="598.9" y="511.1">Diffusion</text></g>
<text x="370.4" y="317.5" text-anchor="middle" font-size="20.4" font-weight="bold" fill="#000">B) Iodixanol Diffusion</text>
</svg>
</body></html>
